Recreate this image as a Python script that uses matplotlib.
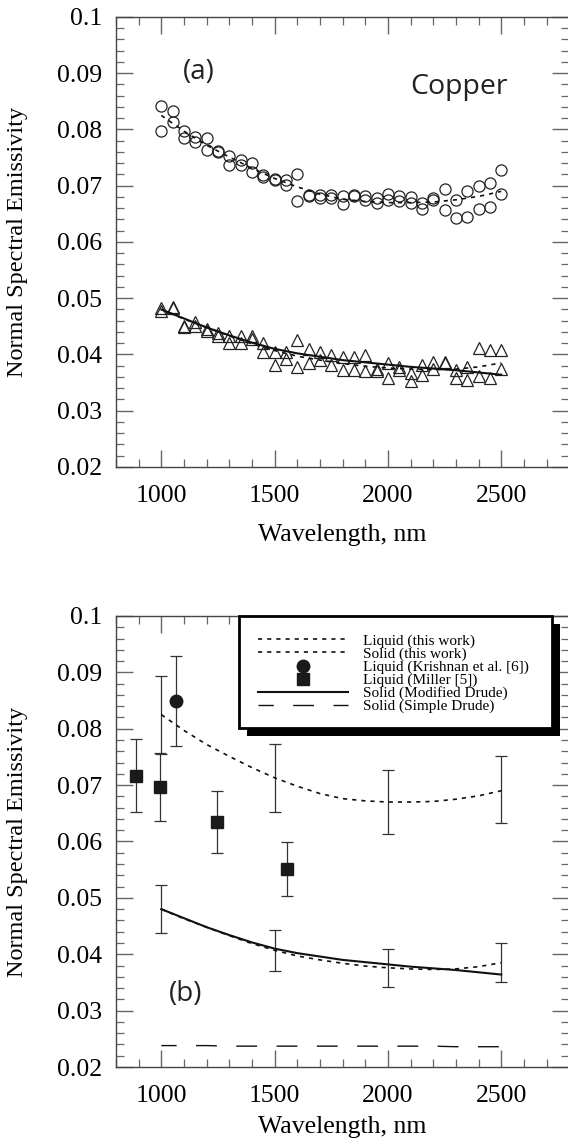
import matplotlib
matplotlib.use("Agg")
import matplotlib.pyplot as plt
import numpy as np
from matplotlib.ticker import MultipleLocator, FuncFormatter
from matplotlib.patches import Rectangle

# measured points, 50 nm grid
wl = [1000, 1050, 1100, 1150, 1200, 1250, 1300, 1350, 1400, 1450, 1500,
      1550, 1600, 1650, 1700, 1750, 1800, 1850, 1900, 1950, 2000, 2050,
      2100, 2150, 2200, 2250, 2300, 2350, 2400, 2450, 2500]
liq_a = [0.0841, 0.0833, 0.0797, 0.0787, 0.0785, 0.0761, 0.0752, 0.0746, 0.0740, 0.0719, 0.0712,
         0.0710, 0.0721, 0.0684, 0.0684, 0.0684, 0.0681, 0.0684, 0.0682, 0.0678, 0.0685, 0.0681,
         0.0680, 0.0670, 0.0678, 0.0695, 0.0675, 0.0690, 0.0700, 0.0705, 0.0728]
liq_b = [0.0797, 0.0814, 0.0785, 0.0777, 0.0764, 0.0760, 0.0737, 0.0737, 0.0724, 0.0716, 0.0710,
         0.0701, 0.0672, 0.0681, 0.0678, 0.0678, 0.0668, 0.0681, 0.0675, 0.0670, 0.0675, 0.0672,
         0.0670, 0.0658, 0.0675, 0.0657, 0.0642, 0.0644, 0.0658, 0.0663, 0.0685]
sol_a = [0.0482, 0.0485, 0.0451, 0.0457, 0.0445, 0.0438, 0.0432, 0.0432, 0.0432, 0.0420, 0.0405,
         0.0405, 0.0426, 0.0409, 0.0405, 0.0399, 0.0395, 0.0395, 0.0399, 0.0375, 0.0385, 0.0377,
         0.0367, 0.0381, 0.0387, 0.0387, 0.0373, 0.0378, 0.0411, 0.0408, 0.0408]
sol_b = [0.0478, 0.0482, 0.0449, 0.0451, 0.0442, 0.0432, 0.0420, 0.0420, 0.0427, 0.0405, 0.0381,
         0.0392, 0.0378, 0.0385, 0.0390, 0.0381, 0.0372, 0.0372, 0.0370, 0.0370, 0.0358, 0.0372,
         0.0352, 0.0364, 0.0375, 0.0385, 0.0358, 0.0355, 0.0361, 0.0358, 0.0374]

# fitted / model curves, 100 nm grid
fit_wl = [1000, 1100, 1200, 1300, 1400, 1500, 1600, 1700, 1800, 1900, 2000,
          2100, 2200, 2300, 2400, 2500]
liq_fit = [0.0825, 0.0797, 0.0772, 0.0751, 0.0731, 0.0713, 0.0698, 0.0685, 0.0676, 0.0672, 0.0670,
           0.0670, 0.0671, 0.0675, 0.0681, 0.0690]
sol_fit = [0.0480, 0.0463, 0.0448, 0.0433, 0.0419, 0.0407, 0.0397, 0.0390, 0.0384, 0.0379, 0.0376,
           0.0374, 0.0373, 0.0374, 0.0378, 0.0385]
mod_drude = [0.0480, 0.0464, 0.0448, 0.0434, 0.0421, 0.0410, 0.0402, 0.0396, 0.0390, 0.0386, 0.0382,
             0.0378, 0.0375, 0.0372, 0.0368, 0.0364]
simple_drude = [0.0238, 0.0238, 0.0238, 0.0237, 0.0237, 0.0237, 0.0237, 0.0237, 0.0237, 0.0237, 0.0237,
                0.0237, 0.0237, 0.0236, 0.0236, 0.0236]

# error bars on the fits
err_wl = [1000, 1500, 2000, 2500]
liq_err_val = [0.0825, 0.0713, 0.0670, 0.0692]
liq_err = [0.0069, 0.0060, 0.0057, 0.0060]
sol_err_val = [0.0480, 0.0407, 0.0376, 0.0385]
sol_err = [0.0042, 0.0036, 0.0034, 0.0035]

# literature
krishnan_wl = [1066]
krishnan_val = [0.0849]
krishnan_err = [0.0080]
miller_wl = [890, 995, 1245, 1554]
miller_val = [0.0717, 0.0697, 0.0634, 0.0551]
miller_err = [0.0064, 0.0060, 0.0055, 0.0048]

SERIF = "Liberation Serif"
SANS = "Open Sans"
plt.rcParams["font.family"] = SERIF
plt.rcParams["axes.linewidth"] = 1.0
plt.rcParams["axes.edgecolor"] = "#444444"

fig = plt.figure(figsize=(5.68, 11.39), dpi=100)
ax1 = fig.add_axes([0.2042, 0.590, 0.798, 0.3951])
ax2 = fig.add_axes([0.2042, 0.0632, 0.798, 0.396])


def style_axes(ax, xlab_y):
    ax.set_xlim(800, 2800)
    ax.set_ylim(0.02, 0.1)
    ax.set_xticks([1000, 1500, 2000, 2500])
    ax.xaxis.set_minor_locator(MultipleLocator(100))
    ax.yaxis.set_major_locator(MultipleLocator(0.01))
    ax.yaxis.set_minor_locator(MultipleLocator(0.002))
    ax.yaxis.set_major_formatter(FuncFormatter(lambda v, p: "%g" % round(v, 3)))
    ax.tick_params(which="both", direction="in", top=True, right=True,
                   color="#666666", labelsize=18.5)
    ax.tick_params(which="major", length=12, width=1.0)
    ax.tick_params(which="minor", length=6, width=0.9)
    ax.tick_params(axis="y", pad=10)
    ax.tick_params(axis="x", pad=13)
    ax.set_ylabel("Normal Spectral Emissivity", fontsize=17.5)
    ax.set_xlabel("Wavelength, nm", fontsize=18.5)
    ax.yaxis.set_label_coords(-0.194, 0.5)
    ax.xaxis.set_label_coords(0.5, xlab_y)


# ---- (a) ----
ax1.plot(wl, liq_a, "o", ms=8, mfc="none", mec="#222222", mew=0.9)
ax1.plot(wl, liq_b, "o", ms=8, mfc="none", mec="#222222", mew=0.9)
ax1.plot(wl, sol_a, "^", ms=8, mfc="none", mec="#222222", mew=0.9)
ax1.plot(wl, sol_b, "^", ms=8, mfc="none", mec="#222222", mew=0.9)
ax1.plot(fit_wl, liq_fit, color="#111111", lw=1.2, ls=(0, (2.5, 3)))
ax1.plot(fit_wl, sol_fit, color="#111111", lw=1.2, ls=(0, (2.5, 3)))
ax1.plot(fit_wl, mod_drude, color="#111111", lw=1.5)
ax1.text(0.183, 0.877, "(a)", transform=ax1.transAxes, ha="center", va="center",
         fontsize=20, family=SANS, color="#222222")
ax1.text(0.757, 0.829, "Copper", transform=ax1.transAxes, ha="center", va="baseline",
         fontsize=20.5, family=SANS, color="#222222")
style_axes(ax1, -0.127)

# ---- (b) ----
ekw = dict(fmt="none", ecolor="#333333", elinewidth=0.9, capsize=4.5, capthick=0.9)
ax2.errorbar(err_wl, liq_err_val, yerr=liq_err, **ekw)
ax2.errorbar(err_wl, sol_err_val, yerr=sol_err, **ekw)
ax2.errorbar(krishnan_wl, krishnan_val, yerr=krishnan_err, **ekw)
ax2.errorbar(miller_wl, miller_val, yerr=miller_err, **ekw)

h1, = ax2.plot(fit_wl, liq_fit, color="#111111", lw=1.2, ls=(0, (2.5, 3)),
               label="Liquid (this work)")
h2, = ax2.plot(fit_wl, sol_fit, color="#111111", lw=1.2, ls=(0, (2.5, 3)),
               label="Solid (this work)")
h3, = ax2.plot(krishnan_wl, krishnan_val, "o", ms=9, color="#1a1a1a", ls="none",
               label="Liquid (Krishnan et al. [6])")
h4, = ax2.plot(miller_wl, miller_val, "s", ms=9, color="#1a1a1a", ls="none",
               label="Liquid (Miller [5])")
h5, = ax2.plot(fit_wl, mod_drude, color="#111111", lw=1.5, label="Solid (Modified Drude)")
h6, = ax2.plot(fit_wl, simple_drude, color="#111111", lw=1.0, ls=(4, (15, 14)),
               label="Solid (Simple Drude)")
ax2.text(0.153, 0.162, "(b)", transform=ax2.transAxes, ha="center", va="center",
         fontsize=20, family=SANS, color="#222222")
style_axes(ax2, -0.108)

# legend box with a hard black shadow
bx0, bx1, by0, by1 = 0.272, 0.961, 0.752, 1.0
off_x, off_y = 8 / 453.3, 8 / 451
ax2.add_patch(Rectangle((bx0 + off_x, by0 - off_y), bx1 - bx0, by1 - by0,
                        transform=ax2.transAxes, facecolor="black", edgecolor="none",
                        zorder=5, clip_on=False))
ax2.add_patch(Rectangle((bx0, by0), bx1 - bx0, by1 - by0, transform=ax2.transAxes,
                        facecolor="white", edgecolor="black", lw=2.0, zorder=6,
                        clip_on=False))
leg = ax2.legend(handles=[h1, h2, h3, h4, h5, h6], loc="upper left",
                 bbox_to_anchor=(0.314, 0.960), frameon=False, fontsize=11,
                 handlelength=5.9, handletextpad=0.95, labelspacing=-0.05,
                 borderpad=0, borderaxespad=0, numpoints=1)
leg.set_zorder(7)

fig.savefig("out.png", dpi=100)
